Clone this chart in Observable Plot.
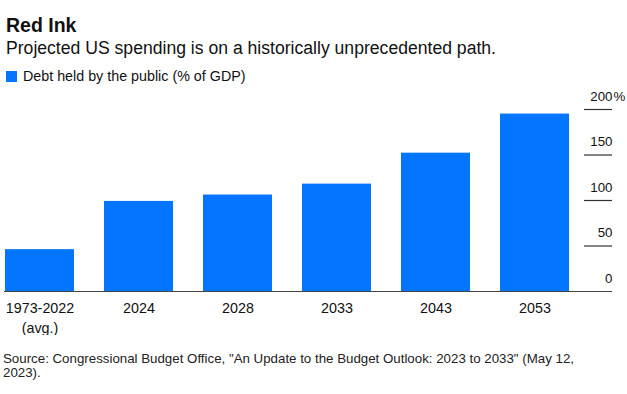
<!DOCTYPE html>
<html>
<head>
<meta charset="utf-8">
<script src="https://cdn.jsdelivr.net/npm/d3@7"></script>
<script src="https://cdn.jsdelivr.net/npm/@observablehq/plot@0.6"></script>
<style>
  body { margin: 0; background: #fff; font-family: "Liberation Sans", Helvetica, Arial, sans-serif; color: #111; }
  #wrap { position: relative; width: 627px; height: 394px; overflow: hidden; }
  .t { position: absolute; left: 6px; white-space: nowrap; line-height: 1; }
  #title { top: 15.5px; font-size: 19.5px; font-weight: bold; }
  #subtitle { top: 40px; font-size: 17.6px; }
  #legend { top: 69px; font-size: 14.3px; display: flex; align-items: center; }
  #legend .sw { display: inline-block; width: 11px; height: 11px; margin-right: 6px; }
  #chart { position: absolute; left: 0; top: 84px; }
  #source { top: 352px; left: 3px; font-size: 13.3px; line-height: 14px; color: #222; }
</style>
</head>
<body>
<div id="wrap">
  <div class="t" id="title">Red Ink</div>
  <div class="t" id="subtitle">Projected US spending is on a historically unprecedented path.</div>
  <div class="t" id="legend"><span class="sw"></span><span id="legendLabel"></span></div>
  <div id="chart"></div>
  <div class="t" id="source">Source: Congressional Budget Office, "An Update to the Budget Outlook: 2023 to 2033" (May 12,<br>2023).</div>
</div>
<script>
const categories = ["1973-2022\n(avg.)", "2024", "2028", "2033", "2043", "2053"];
const debtPctGDP = [46, 99, 106, 118, 152, 195];
const yTicks = [0, 50, 100, 150, 200];
const seriesName = "Debt held by the public (% of GDP)";
const barColor = "#0475ff";

document.getElementById("legendLabel").textContent = seriesName;
document.querySelector("#legend .sw").style.background = barColor;

const data = categories.map((c, i) => ({category: c, value: debtPctGDP[i]}));

const chart = Plot.plot({
  width: 627,
  height: 251,
  marginTop: 25,
  marginBottom: 44,
  marginLeft: 4,
  marginRight: 15,
  style: {fontFamily: "Liberation Sans, Helvetica, Arial, sans-serif", fontSize: "14px", color: "#111", background: "transparent"},
  x: {domain: categories, range: [4, 570], paddingInner: 0.3, paddingOuter: 0, axis: null},
  y: {domain: [0, 200], axis: null},
  marks: [
    Plot.barY(data, {x: "category", y: "value", fill: barColor}),
    Plot.ruleY([0], {stroke: "#444", strokeWidth: 1.2}),
    Plot.ruleY(yTicks.filter(d => d > 0), {stroke: "#333", strokeWidth: 1.2, insetLeft: 580}),
    Plot.text(yTicks, {y: d => d, frameAnchor: "right", textAnchor: "end", lineAnchor: "bottom", dy: -9, text: d => String(d), fontSize: 13.3, fill: "#111"}),
    Plot.text([200], {y: d => d, frameAnchor: "right", textAnchor: "start", lineAnchor: "bottom", dy: -9, dx: 1, text: () => "%", fontSize: 13.3, fill: "#111"}),
    Plot.axisX({domain: categories, tickSize: 0, tickPadding: 7, lineHeight: 1.4, fontSize: 14.3, fill: "#111", label: null})
  ]
});
document.getElementById("chart").appendChild(chart);
</script>
</body>
</html>
